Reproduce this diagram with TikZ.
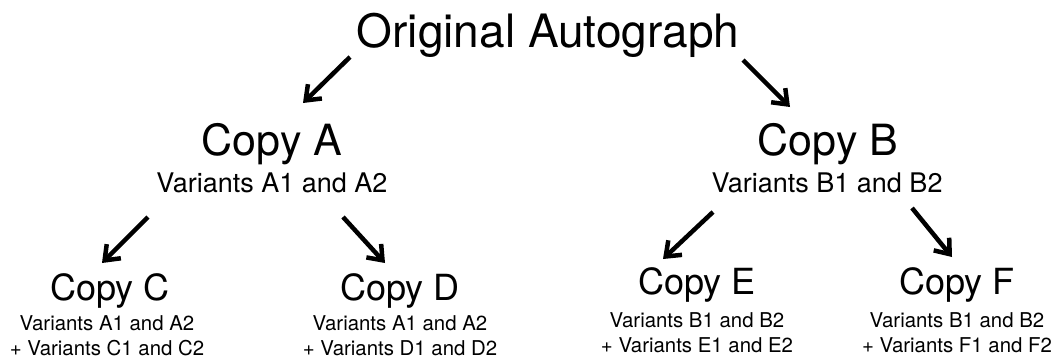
\documentclass[tikz,border=0pt]{standalone}
\usepackage{fontspec}
\setmainfont{TeX Gyre Heros}
\usetikzlibrary{positioning,arrows.meta}
\tikzset{
  rootname/.style={font=\fontsize{46}{46}\selectfont, anchor=base, inner sep=0pt},
  copybig/.style={font=\fontsize{43}{43}\selectfont, anchor=base, inner sep=0pt},
  copysmall/.style={font=\fontsize{36}{36}\selectfont, anchor=base, inner sep=0pt},
  varbig/.style={font=\fontsize{27}{27}\selectfont, anchor=base, inner sep=0pt},
  varsmall/.style={font=\fontsize{20.4}{25}\selectfont, align=center, anchor=base, inner sep=0pt},
  descent/.style={line width=4.5pt, -{Straight Barb[length=13pt,width=20pt]}}
}
\begin{document}
\begin{tikzpicture}[x=1pt, y=-1pt]
    \path[use as bounding box] (0,0) rectangle (1060,364);

    \node[rootname] (orig) at (548,47) {Original Autograph};

    \node[copybig] (copyA) at (272,155) {Copy A};
    \node[varbig]  (varA)  at (272,192) {Variants A1 and A2};
    \node[copybig] (copyB) at (828,155) {Copy B};
    \node[varbig]  (varB)  at (827,192) {Variants B1 and B2};

    % base of the two-line nodes is the last line
    \node[copysmall] (copyC) at (110,300) {Copy C};
    \node[varsmall]  (varC)  at (107,355) {Variants A1 and A2\\+ Variants C1 and C2};
    \node[copysmall] (copyD) at (400,300) {Copy D};
    \node[varsmall]  (varD)  at (400,355) {Variants A1 and A2\\+ Variants D1 and D2};
    \node[copysmall] (copyE) at (697,294) {Copy E};
    \node[varsmall]  (varE)  at (697,352) {Variants B1 and B2\\+ Variants E1 and E2};
    \node[copysmall] (copyF) at (957,294) {Copy F};
    \node[varsmall]  (varF)  at (957,352) {Variants B1 and B2\\+ Variants F1 and F2};

    % arrow ends
    \coordinate (origL) at (350,57);  \coordinate (toA)  at (303,103);
    \coordinate (origR) at (743,60);  \coordinate (toB)  at (790,107);
    \coordinate (aL)    at (148,217); \coordinate (toC)  at (102,263);
    \coordinate (aR)    at (343,217); \coordinate (toD)  at (385,263);
    \coordinate (bL)    at (713,212); \coordinate (toE)  at (663,259);
    \coordinate (bR)    at (912,208); \coordinate (toF)  at (952,257);

    \draw[descent] (origL) -- (toA);
    \draw[descent] (origR) -- (toB);
    \draw[descent] (aL) -- (toC);
    \draw[descent] (aR) -- (toD);
    \draw[descent] (bL) -- (toE);
    \draw[descent] (bR) -- (toF);
\end{tikzpicture}
\end{document}
